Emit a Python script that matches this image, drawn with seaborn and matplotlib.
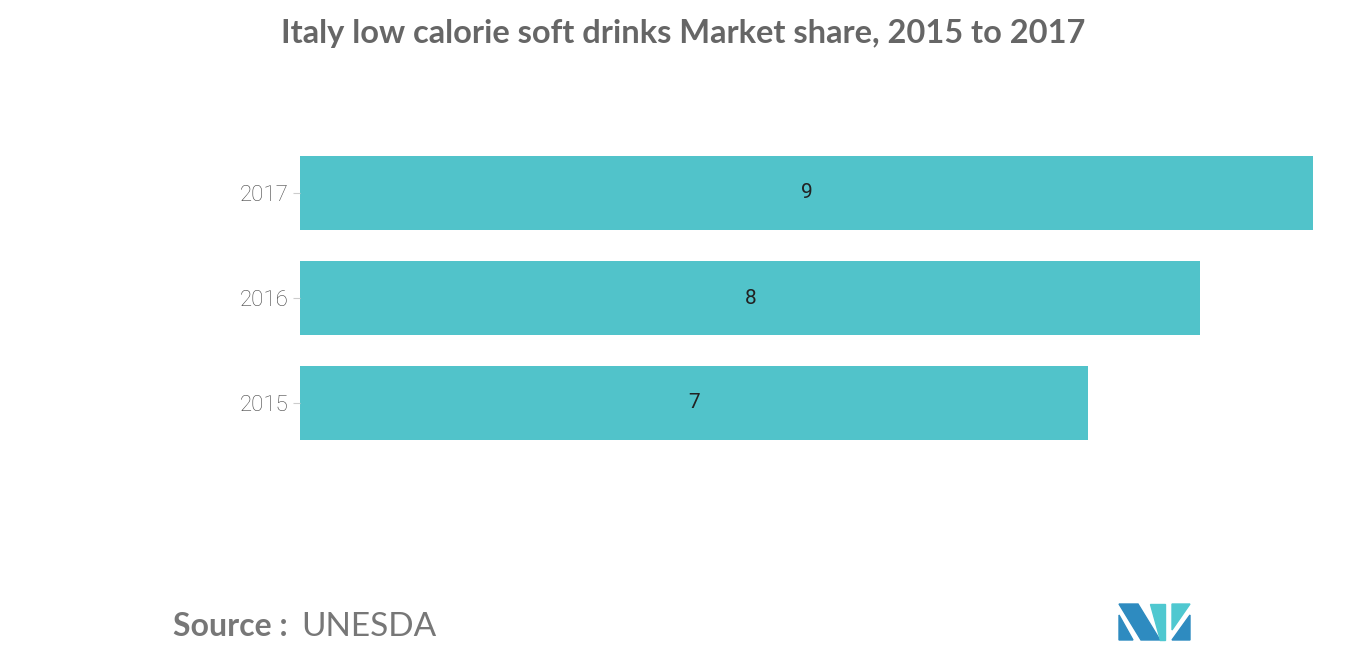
import matplotlib
matplotlib.use("Agg")
import matplotlib.pyplot as plt
import seaborn as sns
import pandas as pd
from matplotlib.patches import Polygon

years = ["2017", "2016", "2015"]
shares = [9, 8, 7]
df = pd.DataFrame({"year": years, "share": shares})

fig = plt.figure(figsize=(13.66, 6.55), dpi=100)
ax = fig.add_axes([300/1366, 1-455.5/655, 1013/1366, 315/655])
sns.barplot(data=df, x="share", y="year", color="#51C3CA", saturation=1, width=0.7, ax=ax, orient="h")
ax.set_xlim(0, 9)
ax.set_ylim(2.5, -0.5)
for i, v in enumerate(shares):
    ax.text(v/2, i, str(v), ha="center", va="center", fontsize=15, family="Roboto", color="#222222")
ax.set_xlabel(""); ax.set_ylabel("")
ax.set_xticks([])
for s in ["top", "right", "bottom", "left"]:
    ax.spines[s].set_visible(False)
ax.tick_params(axis="y", length=5, color="#cccccc", labelsize=16, labelcolor="#444444", pad=3)
for t in ax.get_yticklabels():
    t.set_family("Roboto"); t.set_fontweight("light"); t.set_fontstretch("condensed")

fig.text(683/1366, 1-33/655, "Italy low calorie soft drinks Market share, 2015 to 2017",
         ha="center", va="center", fontsize=23.5, fontweight="bold", family="Lato", color="#666666")
fig.text(173/1366, 1-627/655, "Source :", ha="left", va="center", fontsize=23, fontweight="bold", family="Lato", color="#777777")
fig.text(301/1366, 1-627/655, "UNESDA", ha="left", va="center", fontsize=24, family="Lato", color="#777777")

def poly(pts, c):
    fig.patches.append(Polygon([(x/1366, 1-y/655) for x, y in pts], closed=True, color=c, transform=fig.transFigure))
poly([(1119,604),(1138,604),(1160,640),(1141,640)], "#2E8BC0")
poly([(1119,615),(1133,640),(1119,640)], "#2E8BC0")
poly([(1150,604),(1165,604),(1165,640),(1160,640)], "#4FC8D0")
poly([(1172,604),(1190,604),(1172,630)], "#4FC8D0")
poly([(1172,640),(1190,615),(1190,640)], "#2E8BC0")
fig.savefig("out.png", dpi=100, facecolor="white")
